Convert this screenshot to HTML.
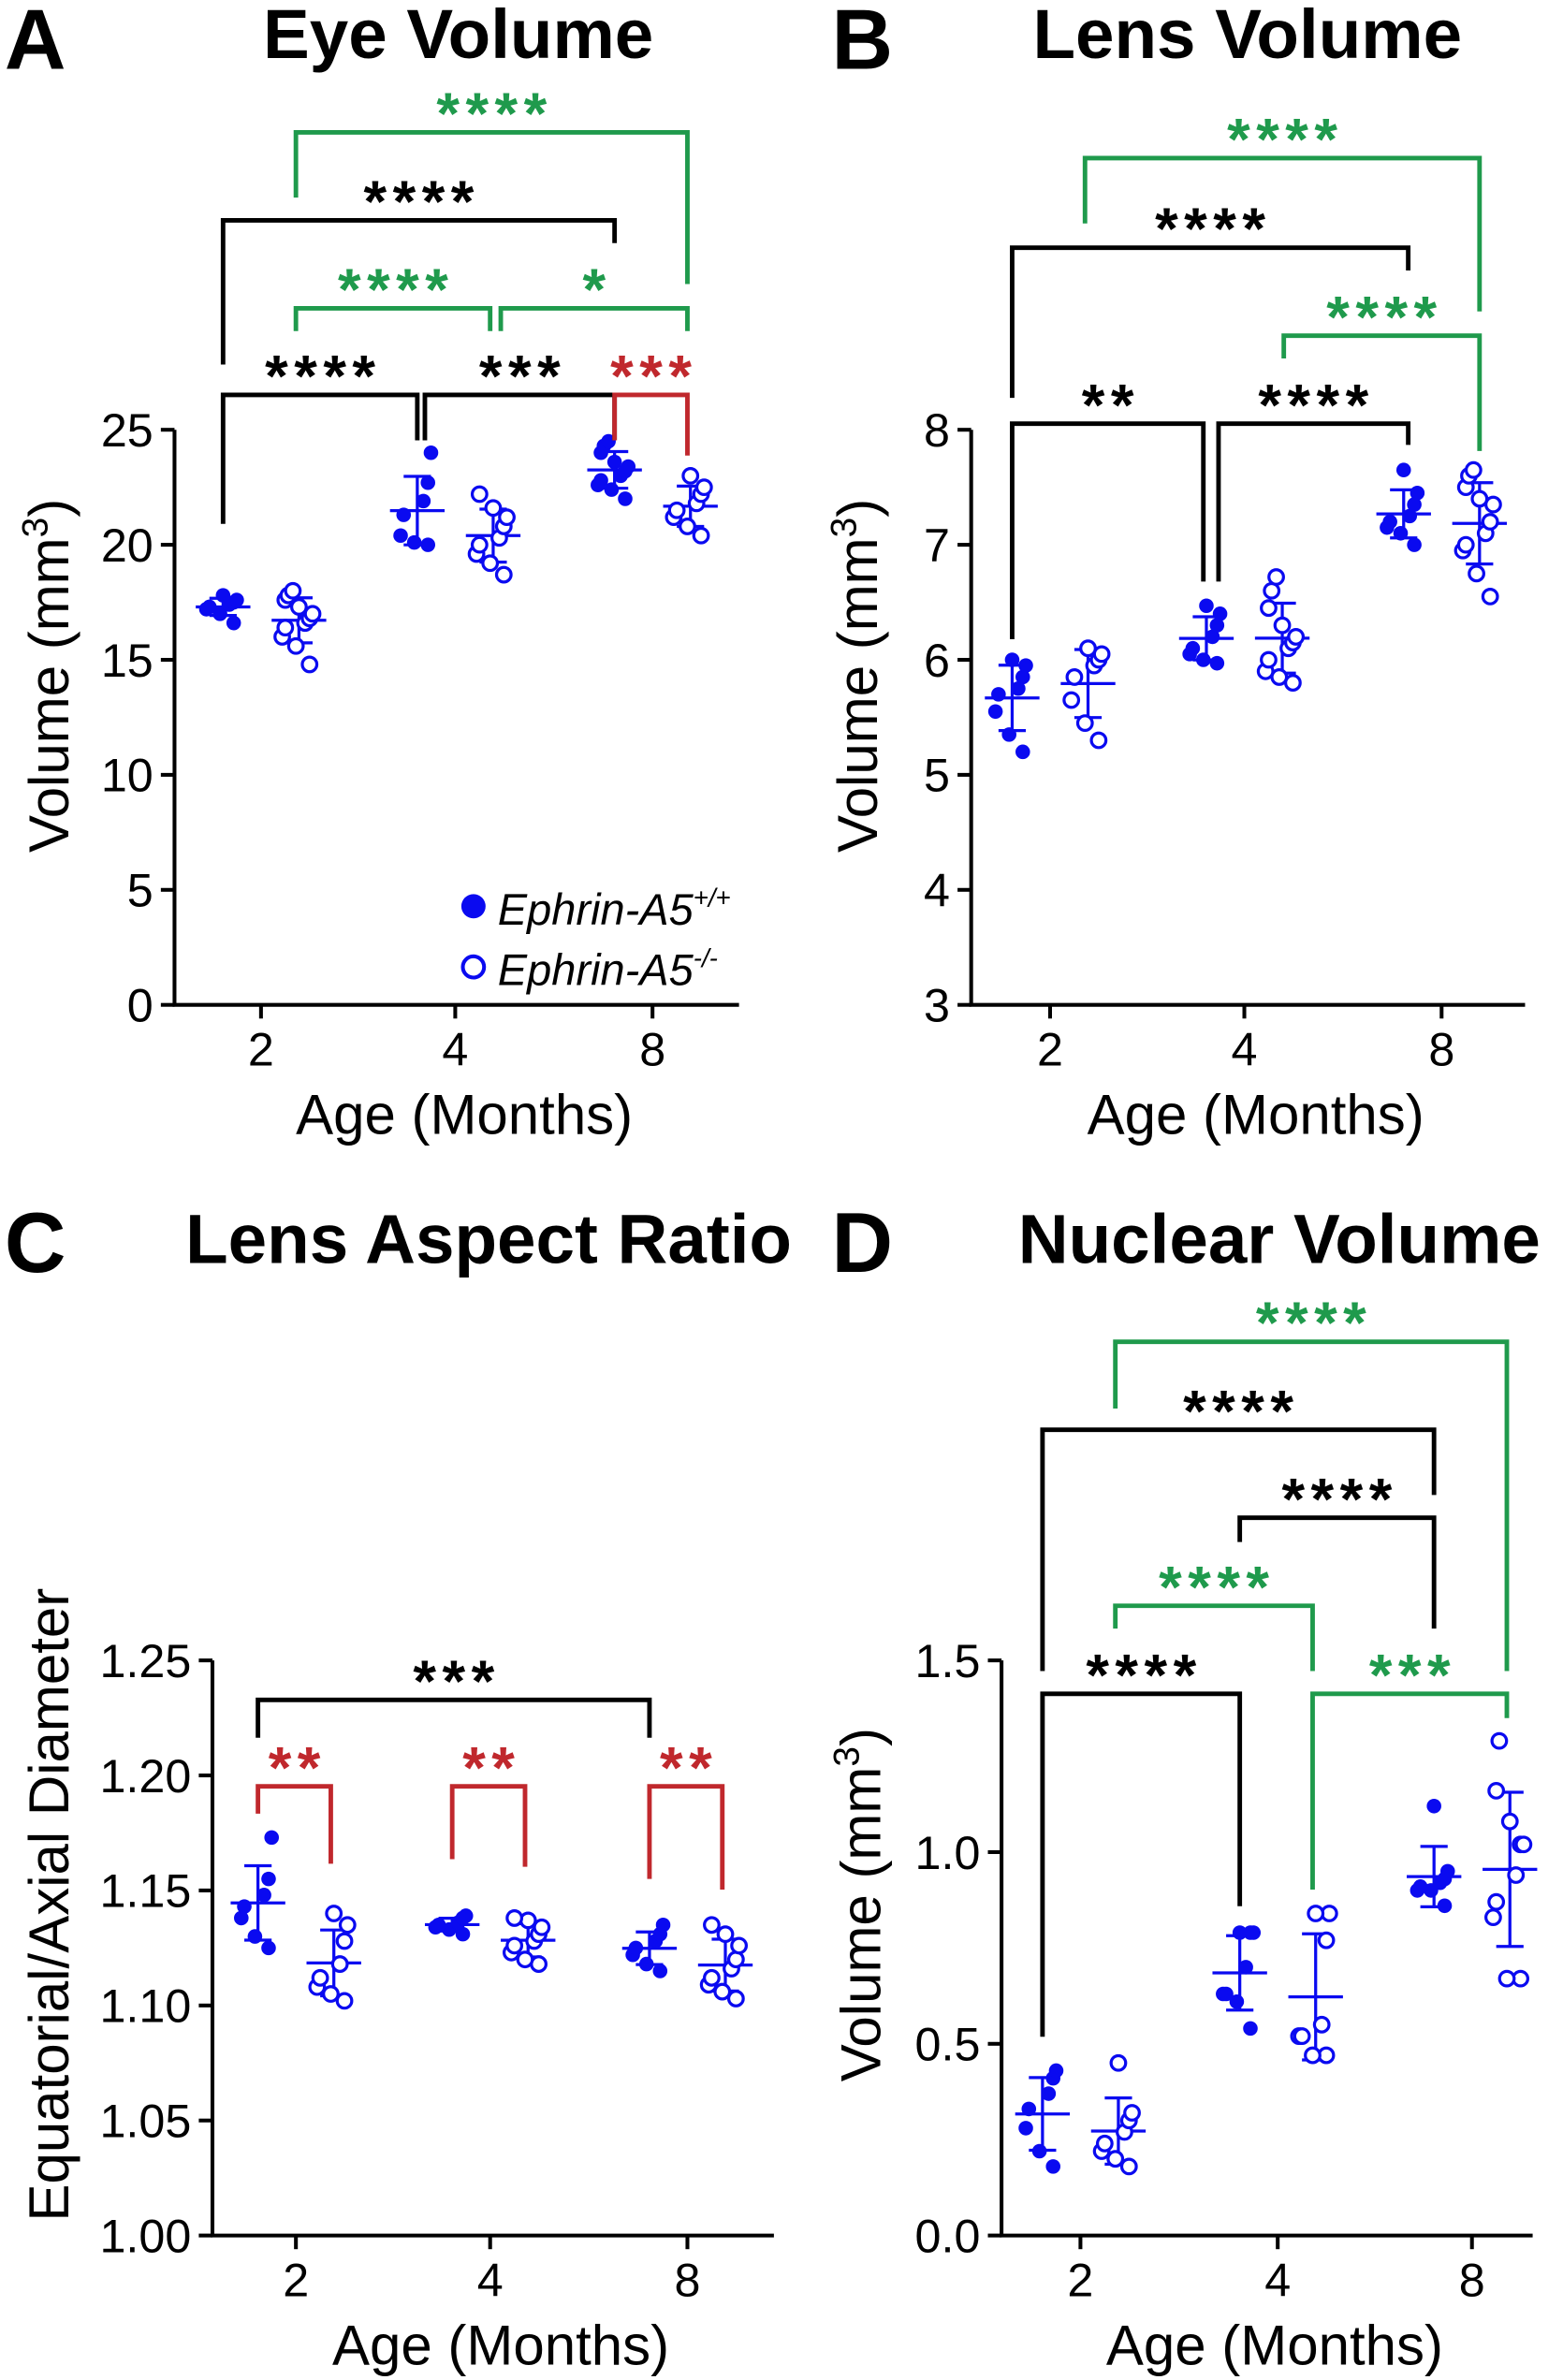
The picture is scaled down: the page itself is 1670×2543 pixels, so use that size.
<!DOCTYPE html>
<html><head><meta charset="utf-8">
<style>
html,body{margin:0;padding:0;background:#fff;}
svg{display:block;}
text{font-family:"Liberation Sans",Arial,sans-serif;}
</style></head>
<body>
<svg id="fig" width="1670" height="2543" viewBox="0 0 1030 1568" xmlns="http://www.w3.org/2000/svg"></svg>
<script>
// ---------- DATA ----------
const categories = ["2","4","8"];
// Panel A: Eye volume (mm3)
const eyeWT = [[16.6,17.0,17.3,17.5,17.6,17.8,17.2,17.4],[20.0,20.1,20.4,21.3,21.9,22.7,24.0],[22.0,22.4,22.8,23.0,23.2,23.4,23.6,24.0,24.3,24.5,22.6]];
const eyeKO = [[14.8,15.6,16.0,16.4,16.8,17.0,17.3,17.6,17.8,18.0,16.6],[18.7,19.2,19.6,20.0,20.3,20.8,21.2,21.6,22.2],[20.4,20.8,21.2,21.5,21.8,22.2,22.5,23.0]];
// Panel B: Lens volume (mm3)
const lensWT = [[5.2,5.35,5.55,5.7,5.85,5.95,6.0,5.75],[5.97,6.0,6.1,6.2,6.3,6.4,6.47,6.05],[7.0,7.1,7.2,7.25,7.35,7.45,7.65,7.15]];
const lensKO = [[5.3,5.45,5.65,5.85,6.0,6.1,6.05,5.95],[5.8,5.9,6.0,6.1,6.2,6.3,6.45,6.6,6.72,6.15,5.85],[6.55,6.75,6.95,7.1,7.2,7.35,7.5,7.6,7.65,7.4,7.0]];
// Panel C: Lens aspect ratio
const ratioWT = [[1.125,1.13,1.138,1.143,1.148,1.155,1.173],[1.131,1.133,1.134,1.135,1.136,1.138,1.139],[1.115,1.118,1.122,1.125,1.128,1.131,1.135]];
const ratioKO = [[1.102,1.105,1.108,1.112,1.118,1.128,1.135,1.14],[1.118,1.12,1.123,1.126,1.128,1.131,1.134,1.137,1.138],[1.103,1.106,1.109,1.112,1.116,1.12,1.126,1.131,1.135]];
// Panel D: Nuclear volume (mm3)
const nucWT = [[0.18,0.22,0.28,0.33,0.37,0.41,0.43],[0.79,0.79,0.79,0.70,0.63,0.63,0.61,0.54],[1.12,0.95,0.93,0.92,0.91,0.9,0.9,0.86]];
const nucKO = [[0.18,0.2,0.22,0.24,0.27,0.3,0.32,0.45],[0.84,0.84,0.77,0.55,0.52,0.52,0.47,0.47],[1.29,1.16,1.08,1.02,1.02,0.94,0.87,0.83,0.67,0.67]];
const ticksA = [0,5,10,15,20,25];
const ticksB = [3,4,5,6,7,8];
const ticksC = ["1.00","1.05","1.10","1.15","1.20","1.25"];
const ticksD = ["0.0","0.5","1.0","1.5"];

// ---------- DRAW ----------
const svg = document.getElementById('fig');
const NS = "http://www.w3.org/2000/svg";
const BLUE = "#0a0af0", GREEN = "#1f9a4c", RED = "#c0282d";
function el(tag, attrs, parent){ const e=document.createElementNS(NS,tag); for(const k in attrs) e.setAttribute(k,attrs[k]); (parent||svg).appendChild(e); return e; }
function txt(s, attrs, parent){ const e=el('text',attrs,parent); e.textContent=s; return e; }
function mean(a){return a.reduce((p,c)=>p+c,0)/a.length;}
function sd(a){const m=mean(a);return Math.sqrt(a.reduce((p,c)=>p+(c-m)*(c-m),0)/(a.length-1));}

function panel(cfg){
  const g = el('g',{});
  
  
  const Y = v => cfg.y0 + (v - cfg.vmin) / (cfg.vmax - cfg.vmin) * (cfg.y1 - cfg.y0);
  const ax = el('path',{d:`M${cfg.xl},${cfg.y1} V${cfg.y0} H${cfg.xr}`,stroke:"#000","stroke-width":2.5,fill:"none"},g);
  
  
  cfg.ticks.forEach(t=>{
    const yy=Y(parseFloat(t));
    el('line',{x1:cfg.xl-9,x2:cfg.xl,y1:yy,y2:yy,stroke:"#000","stroke-width":2.5},g);
    const tl=txt(String(t),{x:cfg.xl-14,y:yy+11,"font-size":31,"text-anchor":"end"},g);
    
    
  });
  categories.forEach((c,i)=>{
    const cx=cfg.gx[i];
    el('line',{x1:cfg.gx[i],x2:cfg.gx[i],y1:cfg.y0,y2:cfg.y0+9,stroke:"#000","stroke-width":2.5},g);
    const tl=txt(c,{x:cx,y:cfg.y0+40,"font-size":31,"text-anchor":"middle"},g);
    
    
  });
  const xt=txt("Age (Months)",{x:(cfg.xl+cfg.xr)/2+5,y:cfg.y0+85,"font-size":37,"text-anchor":"middle"},g);
  
  
  const yt=el('text',{x:0,y:0,"font-size":37,"text-anchor":"middle",transform:`translate(${cfg.ytx},${cfg.yty}) rotate(-90)`},g);
  yt.innerHTML=cfg.ytitle;
  
  
  const ti=txt(cfg.title,{x:cfg.tx,y:cfg.ty,"font-size":46,"font-weight":"bold","text-anchor":"middle"},g);
  
  
  const lt=txt(cfg.letter,{x:cfg.lx,y:cfg.ly,"font-size":56,"font-weight":"bold"},g);
  
  
  [[cfg.wt,true,-25],[cfg.ko,false,25]].forEach(([series,filled,off])=>{
    series.forEach((vals,i)=>{
      const cx=cfg.gx[i]+off;
      const m=mean(vals), s=sd(vals);
      const eb=el('path',{d:`M${cx-18},${Y(m)} H${cx+18} M${cx},${Y(m-s)} V${Y(m+s)} M${cx-9},${Y(m-s)} H${cx+9} M${cx-9},${Y(m+s)} H${cx+9}`,stroke:BLUE,"stroke-width":2,fill:"none"},g);
      
      
      const sorted=vals.slice().sort((a,b)=>a-b);
      sorted.forEach((v,j)=>{
        const jit=((j%3)-1)*11*(j%2?1:-1)+((j%5)-2)*2;
        const p=el('circle',{cx:cx+jit,cy:Y(v),r:4.8,fill:filled?BLUE:"#fff",stroke:BLUE,"stroke-width":filled?0:2},g);
        
        
      });
    });
  });
  cfg.brackets.forEach(b=>{
    const [x1,x2,yb,e1,e2,lab,col]=b;
    const bp=el('path',{d:`M${x1},${e1} V${yb} H${x2} V${e2}`,stroke:col,"stroke-width":3,fill:"none"},g);
    
    
    const bl=txt(lab,{x:(x1+x2)/2+2,y:yb+1,"font-size":39,"font-weight":"bold",fill:col,"text-anchor":"middle","letter-spacing":4},g);
    
    
  });
  return g;
}

panel({name:'panel-a-eye-volume',title:"Eye Volume",tx:302,ty:38,letter:"A",lx:3,ly:45,
  xl:115,xr:487,y0:662,y1:283,vmin:0,vmax:25,ticks:ticksA,gx:[172,300,430],
  ytitle:'Volume (mm<tspan font-size="24" dy="-14">3</tspan><tspan dy="14">)</tspan>',ytx:45,yty:445,
  wt:eyeWT,ko:eyeKO,
  brackets:[[195,453,87,130,187,"****",GREEN],[147,405,145,240,160,"****","#000"],
    [195,323,203,218,218,"****",GREEN],[330,453,203,218,218,"*",GREEN],
    [147,275,260,345,290,"****","#000"],[280,405,260,290,290,"***","#000"],[405,453,260,290,300,"***",RED]]});
panel({name:'panel-b-lens-volume',title:"Lens Volume",tx:822,ty:38,letter:"B",lx:548,ly:45,
  xl:640,xr:1005,y0:662,y1:283,vmin:3,vmax:8,ticks:ticksB,gx:[692,820,950],
  ytitle:'Volume (mm<tspan font-size="24" dy="-14">3</tspan><tspan dy="14">)</tspan>',ytx:578,yty:445,
  wt:lensWT,ko:lensKO,
  brackets:[[715,975,104,147,205,"****",GREEN],[667,928,163,262,178,"****","#000"],
    [846,975,221,236,297,"****",GREEN],[667,793,279,421,383,"**","#000"],[803,928,279,383,293,"****","#000"]]});
panel({name:'panel-c-lens-aspect-ratio',title:"Lens Aspect Ratio",tx:322,ty:832,letter:"C",lx:3,ly:838,
  xl:140,xr:510,y0:1473,y1:1094,vmin:1.0,vmax:1.25,ticks:ticksC,gx:[195,323,453],
  ytitle:'Equatorial/Axial Diameter',ytx:45,yty:1255,
  wt:ratioWT,ko:ratioKO,
  brackets:[[170,428,1120,1145,1145,"***","#000"],[170,218,1177,1195,1228,"**",RED],
    [298,346,1177,1225,1230,"**",RED],[428,476,1177,1238,1245,"**",RED]]});
panel({name:'panel-d-nuclear-volume',title:"Nuclear Volume",tx:843,ty:832,letter:"D",lx:548,ly:838,
  xl:660,xr:1010,y0:1473,y1:1094,vmin:0,vmax:1.5,ticks:ticksD,gx:[712,842,970],
  ytitle:'Volume (mm<tspan font-size="24" dy="-14">3</tspan><tspan dy="14">)</tspan>',ytx:580,yty:1255,
  wt:nucWT,ko:nucKO,
  brackets:[[735,993,884,928,1101,"****",GREEN],[687,945,942,1101,985,"****","#000"],
    [817,945,1000,1016,1073,"****","#000"],[735,865,1058,1073,1101,"****",GREEN],
    [687,817,1116,1342,1256,"****","#000"],[865,993,1116,1245,1132,"***",GREEN]]});

// legend
const lg=el('g',{});


const l1=el('circle',{cx:312,cy:597,r:8,fill:BLUE},lg);


const lt1=el('text',{x:328,y:609,"font-size":29,"font-style":"italic"},lg);
lt1.innerHTML='Ephrin-A5<tspan font-size="17" dy="-12">+/+</tspan>';


const l2=el('circle',{cx:312,cy:637,r:7,fill:"#fff",stroke:BLUE,"stroke-width":2.5},lg);


const lt2=el('text',{x:328,y:649,"font-size":29,"font-style":"italic"},lg);
lt2.innerHTML='Ephrin-A5<tspan font-size="17" dy="-12">-/-</tspan>';


</script>
</body></html>
